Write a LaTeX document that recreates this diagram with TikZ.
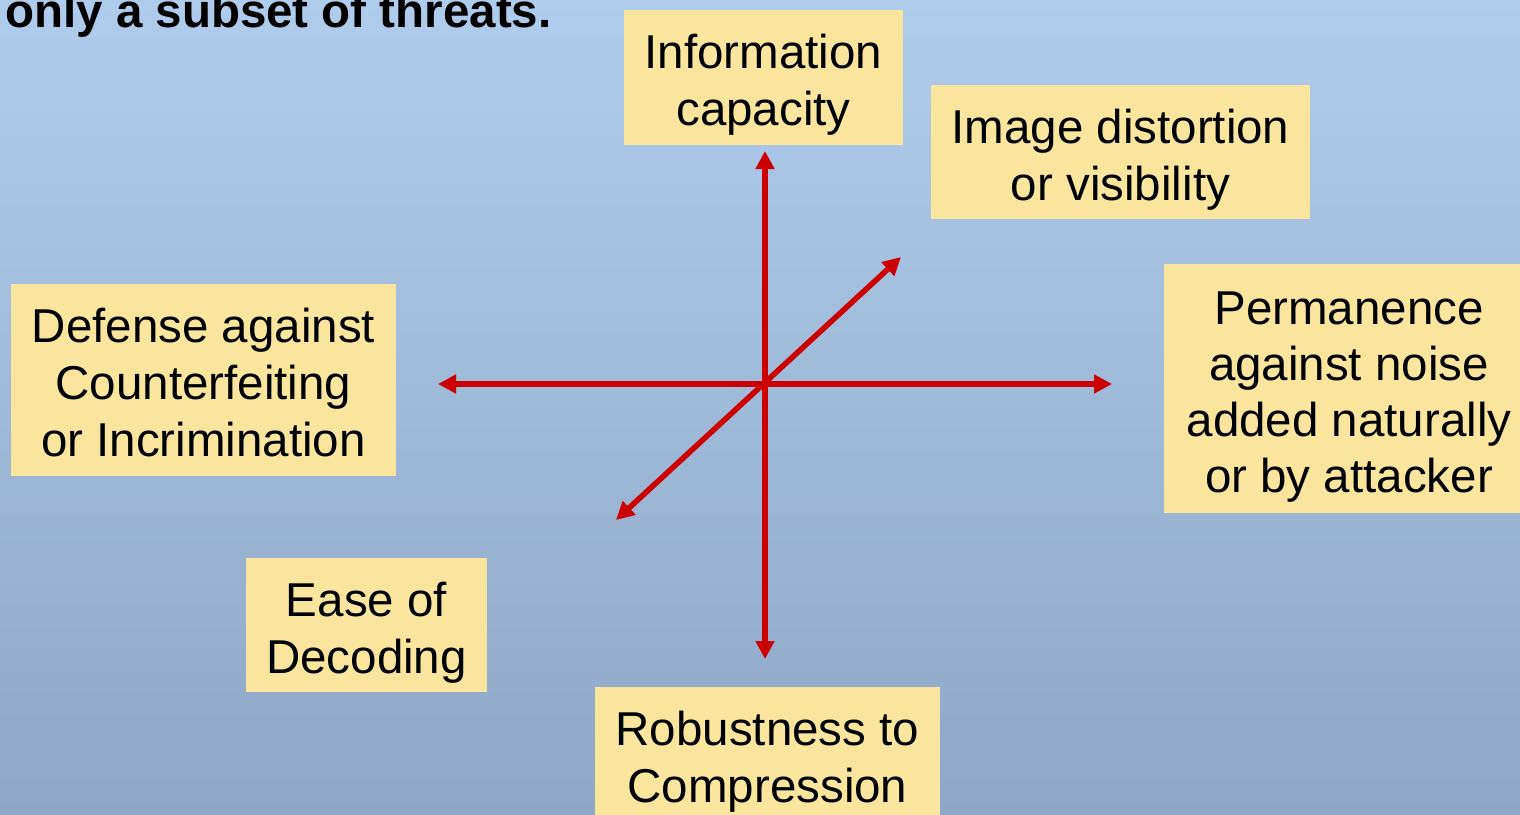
\documentclass[tikz,border=0pt]{standalone}
\usepackage{fontspec}
\setmainfont{Liberation Sans}
\usetikzlibrary{arrows.meta}
\definecolor{skytop}{RGB}{176,204,236}
\definecolor{skybot}{RGB}{143,167,198}
\definecolor{boxfill}{RGB}{249,229,157}
\definecolor{axisred}{RGB}{204,0,0}
\begin{document}
\begin{tikzpicture}[x=1pt,y=-1pt,
  label box/.style={rectangle, fill=boxfill, inner sep=0pt, align=center,
    font=\fontsize{47.5}{57}\selectfont, text depth=10pt},
  axis/.style={draw=axisred, line width=5.5pt,
    {Triangle[length=18pt,width=18pt]}-{Triangle[length=18pt,width=18pt]}}]
  \useasboundingbox (0,0) rectangle (1520,814);
  \clip (0,0) rectangle (1520,814);
  % backdrop
  \shade[top color=skytop, bottom color=skybot] (0,0) rectangle (1520,814);
  % heading fragment
  \node[anchor=base west, inner sep=0pt, font=\fontsize{47.5}{57}\selectfont\bfseries]
    (title) at (5,27) {only a subset of threats.};
  % property boxes (text height = ascender + lines above the last)
  \node[label box, text height=106pt, minimum width=279pt, minimum height=135pt]
    (info) at (763.5,77.5) {Information\\capacity};
  \node[label box, text height=106pt, minimum width=379pt, minimum height=134pt]
    (img) at (1120.5,152) {Image distortion\\or visibility};
  \node[label box, text height=217pt, font=\fontsize{47.5}{56}\selectfont,
    minimum width=370pt, minimum height=249pt]
    (perm) at (1349,388.5) {Permanence\\against noise\\added naturally\\or by attacker};
  \node[label box, text height=163pt, minimum width=385pt, minimum height=192pt]
    (def) at (203.5,380) {Defense against\\Counterfeiting\\or Incrimination};
  \node[label box, text height=106pt, minimum width=241pt, minimum height=134pt]
    (ease) at (366.5,625) {Ease of\\Decoding};
  \node[label box, text height=106pt, minimum width=345pt, minimum height=134pt]
    (rob) at (767.5,754) {Robustness to\\Compression};
  % axes through the common origin
  \coordinate (o) at (765,384);
  \coordinate (up) at (765,151);
  \coordinate (down) at (765,659);
  \coordinate (left) at (438,384);
  \coordinate (right) at (1112,384);
  \coordinate (ne) at (901,257);
  \coordinate (sw) at (616,520);
  \draw[axis] (down) -- (up);
  \draw[axis] (left) -- (right);
  \draw[axis] (sw) -- (ne);
\end{tikzpicture}
\end{document}
